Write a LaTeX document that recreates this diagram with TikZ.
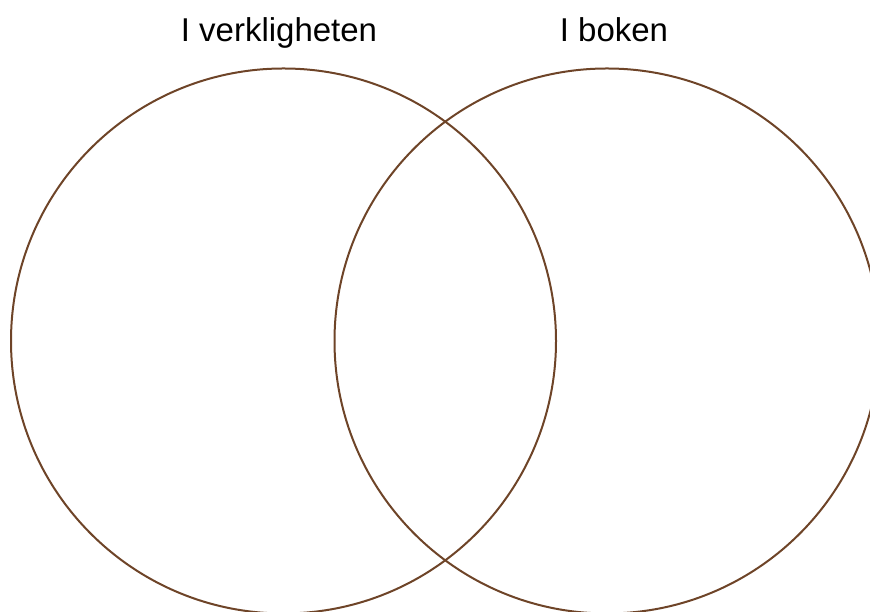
\documentclass[tikz,border=0pt]{standalone}
\usepackage{fontspec}
\setmainfont{Liberation Sans}
\usepackage{tikz}
\usetikzlibrary{positioning}
\usepackage{xcolor}
\definecolor{vennbrown}{HTML}{6E4428}
\tikzset{
  set/.style={circle,draw=vennbrown,line width=2pt,minimum size=545pt,inner sep=0pt},
  setlabel/.style={anchor=base,font=\fontsize{33}{38}\selectfont,text=black}
}

\begin{document}
\begin{tikzpicture}[x=1pt,y=1pt]
  \useasboundingbox (0,0) rectangle (870,612);
  \clip (0,0) rectangle (870,612);
  \node[set] (real) at (283.5,271) {};
  \node[set] (book) at (607,271) {};
  \node[setlabel] (reallbl) at (279,570) {I verkligheten};
  \node[setlabel] (booklbl) at (614,570) {I boken};
\end{tikzpicture}
\end{document}
